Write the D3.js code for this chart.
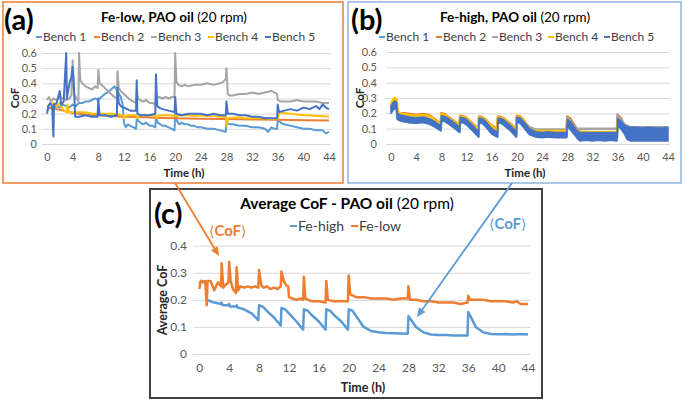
<!DOCTYPE html>
<html><head><meta charset="utf-8">
<script src="https://cdn.jsdelivr.net/npm/d3@7"></script>
<style>body{margin:0;background:#fff}svg{display:block}text{font-family:Lato,'Open Sans','DejaVu Sans',sans-serif}</style>
</head><body><svg id="chart" width="685" height="405"></svg>
<script>
// ---------------- DATA ----------------
const xTickValues = [0,4,8,12,16,20,24,28,32,36,40,44];
const yTicksAB = [0,0.1,0.2,0.3,0.4,0.5,0.6];
const yTicksC = [0,0.1,0.2,0.3,0.4];
const benchNames = ["Bench 1","Bench 2","Bench 3","Bench 4","Bench 5"];
const benchColors = ["#5B9BD5","#ED7D31","#A5A5A5","#FFC000","#4472C4"];
const avgNames = ["Fe-high","Fe-low"];
const avgColors = ["#5B9BD5","#ED7D31"];

// Panel (a) Fe-low  [time h, CoF]
const bench1Low = [[0,0.22],[0.5,0.24],[1,0.23],[1.5,0.25],[2,0.24],[2.5,0.26],[3,0.25],[3.5,0.24],[4,0.26],[4.5,0.25],[5,0.27],[5.5,0.27],[6,0.28],[6.5,0.28],[7,0.29],[7.5,0.30],[8,0.29],[8.5,0.31],[9,0.33],[9.5,0.34],[10,0.36],[10.5,0.38],[11,0.35],[11.5,0.31],[11.8,0.26],[12,0.14],[12.3,0.11],[12.6,0.13],[13,0.12],[13.5,0.11],[13.9,0.10],[14,0.17],[14.3,0.15],[14.6,0.14],[15,0.13],[15.5,0.14],[16,0.12],[16.5,0.12],[16.9,0.11],[17,0.18],[17.3,0.14],[17.7,0.13],[18,0.12],[18.5,0.12],[19,0.11],[19.5,0.10],[19.9,0.09],[20,0.20],[20.3,0.15],[20.6,0.13],[21,0.14],[21.5,0.13],[22,0.13],[22.5,0.12],[23,0.12],[23.5,0.11],[24,0.11],[25,0.10],[26,0.10],[27,0.09],[27.9,0.08],[28,0.14],[28.5,0.13],[29,0.13],[30,0.12],[31,0.12],[32,0.11],[33,0.11],[34,0.10],[34.5,0.08],[35,0.11],[35.5,0.10],[35.9,0.10],[36,0.16],[36.5,0.14],[37,0.13],[38,0.12],[39,0.11],[40,0.10],[41,0.10],[42,0.09],[43,0.09],[43.5,0.07],[44,0.08]];
const bench2Low = [[0,0.24],[0.5,0.24],[1,0.235],[2,0.225],[3,0.215],[4,0.205],[5,0.20],[6,0.195],[8,0.19],[10,0.185],[12,0.18],[14,0.178],[16,0.175],[18,0.172],[20,0.17],[24,0.167],[28,0.165],[32,0.162],[36,0.16],[40,0.157],[44,0.155]];
const bench3Low = [[0,0.29],[0.3,0.31],[0.6,0.28],[1,0.30],[1.5,0.29],[2,0.31],[2.5,0.30],[3,0.29],[3.5,0.30],[3.8,0.32],[4,0.55],[4.2,0.33],[4.6,0.30],[4.9,0.28],[5,0.60],[5.2,0.42],[5.5,0.40],[6,0.38],[6.5,0.37],[7,0.36],[7.5,0.38],[7.9,0.37],[8,0.49],[8.2,0.40],[8.5,0.39],[9,0.37],[9.5,0.35],[10,0.33],[10.5,0.31],[10.9,0.30],[11,0.48],[11.2,0.37],[11.5,0.35],[12,0.33],[12.5,0.31],[13,0.29],[13.5,0.28],[13.9,0.27],[14,0.36],[14.2,0.30],[14.5,0.29],[15,0.28],[15.5,0.29],[16,0.27],[16.5,0.27],[16.9,0.26],[17,0.30],[17.5,0.31],[18,0.30],[18.5,0.31],[19,0.30],[19.5,0.31],[19.9,0.31],[20,0.60],[20.2,0.41],[20.5,0.39],[21,0.38],[21.5,0.39],[22,0.38],[23,0.39],[24,0.39],[25,0.40],[26,0.39],[27,0.40],[27.5,0.41],[27.9,0.43],[28,0.50],[28.2,0.33],[28.5,0.32],[29,0.32],[30,0.33],[31,0.33],[32,0.34],[33,0.33],[34,0.34],[35,0.35],[35.9,0.33],[36,0.29],[36.5,0.28],[37,0.28],[38,0.28],[39,0.29],[40,0.28],[41,0.28],[42,0.28],[43,0.27],[44,0.27]];
const bench4Low = [[0,0.25],[0.5,0.26],[1,0.27],[1.5,0.25],[2,0.27],[2.3,0.24],[2.6,0.22],[3,0.21],[3.2,0.26],[3.4,0.21],[4,0.21],[5,0.21],[6,0.21],[7,0.20],[8,0.20],[9,0.20],[10,0.20],[11,0.195],[11.9,0.19],[12,0.17],[12.5,0.19],[13,0.19],[13.9,0.19],[14,0.17],[14.5,0.19],[15,0.19],[16,0.19],[16.9,0.19],[17,0.17],[17.5,0.19],[18,0.19],[19,0.19],[20,0.185],[21,0.19],[22,0.19],[23,0.185],[24,0.19],[25,0.185],[26,0.185],[27,0.18],[27.9,0.18],[28,0.12],[28.3,0.17],[29,0.175],[30,0.175],[31,0.17],[32,0.17],[33,0.17],[34,0.17],[35,0.165],[35.9,0.165],[36,0.17],[36.3,0.21],[37,0.205],[38,0.20],[39,0.195],[40,0.19],[41,0.19],[42,0.185],[43,0.185],[44,0.18]];
const bench5Low = [[0,0.20],[0.2,0.25],[0.5,0.27],[0.8,0.25],[1,0.05],[1.1,0.26],[1.5,0.27],[2,0.35],[2.2,0.26],[2.6,0.28],[3,0.60],[3.1,0.30],[3.5,0.40],[3.8,0.44],[4,0.51],[4.2,0.38],[4.4,0.18],[5,0.18],[6,0.19],[7,0.18],[7.9,0.18],[8,0.30],[8.2,0.19],[9,0.19],[10,0.18],[10.9,0.19],[11,0.37],[11.2,0.27],[11.5,0.25],[12,0.24],[13,0.22],[13.9,0.22],[14,0.42],[14.1,0.20],[14.5,0.19],[15,0.19],[16,0.19],[16.9,0.20],[17,0.46],[17.2,0.25],[17.5,0.24],[18,0.23],[19,0.22],[19.9,0.21],[20,0.31],[20.2,0.20],[21,0.19],[22,0.20],[23,0.20],[24,0.20],[25,0.19],[26,0.20],[27,0.19],[27.9,0.19],[28,0.28],[28.2,0.20],[29,0.20],[30,0.19],[31,0.19],[32,0.18],[33,0.18],[34,0.17],[35,0.17],[35.9,0.17],[36,0.26],[36.2,0.21],[37,0.22],[38,0.23],[39,0.22],[40,0.24],[41,0.23],[42,0.25],[42.5,0.23],[43,0.26],[43.5,0.24],[44,0.23]];

// Panel (b) Fe-high  [time h, CoF]
const bench1High = [[0,0.21],[0.5,0.24],[0.9,0.24],[1,0.17],[2,0.15],[3,0.14],[4,0.14],[5,0.145],[6,0.14],[7,0.12],[7.9,0.09],[8,0.16],[9,0.14],[10,0.11],[10.9,0.08],[11,0.15],[12,0.13],[13,0.09],[13.9,0.05],[14,0.15],[15,0.12],[16,0.07],[16.9,0.05],[17,0.15],[18,0.13],[19,0.09],[19.9,0.05],[20,0.15],[21,0.12],[22,0.07],[24,0.05],[27.9,0.05],[28,0.12],[29,0.07],[30,0.04],[35.9,0.04],[36,0.13],[37,0.08],[38,0.05],[44,0.05]];
const bench2High = [[0,0.24],[0.3,0.28],[0.6,0.29],[0.9,0.28],[1,0.21],[1.5,0.20],[2,0.20],[3,0.195],[4,0.19],[5,0.195],[6,0.19],[7,0.16],[7.9,0.13],[8,0.20],[8.5,0.195],[9,0.18],[10,0.15],[10.9,0.12],[11,0.185],[11.5,0.18],[12,0.17],[13,0.13],[13.9,0.10],[14,0.18],[14.5,0.175],[15,0.16],[16,0.12],[16.9,0.10],[17,0.18],[17.5,0.175],[18,0.165],[19,0.13],[19.9,0.10],[20,0.185],[20.5,0.18],[21,0.16],[22,0.10],[23,0.085],[24,0.08],[26,0.08],[27.9,0.08],[28,0.18],[28.5,0.165],[29,0.13],[29.5,0.10],[30,0.08],[32,0.075],[34,0.075],[35.9,0.075],[36,0.19],[36.5,0.17],[37,0.13],[37.5,0.10],[38,0.09],[40,0.09],[42,0.09],[44,0.09]];
const bench3High = [[0,0.23],[0.5,0.27],[0.9,0.26],[1,0.20],[2,0.19],[4,0.18],[6,0.18],[7,0.15],[7.9,0.12],[8,0.19],[9,0.17],[10,0.14],[10.9,0.11],[11,0.18],[12,0.16],[13,0.12],[13.9,0.09],[14,0.17],[15,0.15],[16,0.11],[16.9,0.09],[17,0.17],[18,0.155],[19,0.12],[19.9,0.09],[20,0.175],[21,0.15],[22,0.11],[23,0.095],[24,0.095],[26,0.095],[27.9,0.095],[28,0.17],[28.5,0.15],[29,0.12],[29.5,0.10],[30,0.10],[32,0.10],[34,0.10],[35.9,0.10],[36,0.19],[36.5,0.16],[37,0.13],[38,0.11],[40,0.11],[42,0.11],[44,0.11]];
const bench4High = [[0,0.26],[0.3,0.29],[0.6,0.30],[0.9,0.29],[1,0.21],[1.5,0.20],[2,0.195],[3,0.19],[4,0.185],[5,0.19],[6,0.185],[7,0.155],[7.9,0.125],[8,0.195],[8.5,0.19],[9,0.175],[10,0.145],[10.9,0.115],[11,0.18],[11.5,0.175],[12,0.165],[13,0.125],[13.9,0.095],[14,0.175],[14.5,0.17],[15,0.155],[16,0.115],[16.9,0.095],[17,0.175],[17.5,0.17],[18,0.16],[19,0.125],[19.9,0.095],[20,0.18],[20.5,0.175],[21,0.155],[22,0.095],[23,0.085],[24,0.085],[26,0.085],[27.9,0.085],[28,0.15],[28.5,0.13],[29,0.10],[30,0.08],[32,0.078],[34,0.078],[35.9,0.078],[36,0.15],[36.5,0.13],[37,0.10],[38,0.09],[40,0.09],[44,0.09]];
// Bench 5 is a noisy band: [time h, low CoF, high CoF]
const bench5High = [[0,0.20,0.24],[0.3,0.22,0.27],[0.6,0.23,0.28],[0.9,0.22,0.27],[1,0.16,0.20],[1.5,0.15,0.19],[2,0.145,0.185],[3,0.14,0.175],[4,0.135,0.17],[5,0.14,0.175],[6,0.13,0.165],[7,0.11,0.145],[7.9,0.085,0.12],[8,0.15,0.185],[8.5,0.15,0.18],[9,0.135,0.17],[10,0.105,0.14],[10.9,0.075,0.11],[11,0.14,0.175],[11.5,0.14,0.17],[12,0.125,0.16],[13,0.085,0.12],[13.9,0.045,0.08],[14,0.14,0.17],[14.5,0.135,0.165],[15,0.115,0.15],[16,0.065,0.10],[16.9,0.045,0.075],[17,0.14,0.17],[17.5,0.135,0.165],[18,0.12,0.155],[19,0.085,0.12],[19.9,0.045,0.08],[20,0.145,0.175],[20.5,0.14,0.17],[21,0.11,0.15],[22,0.06,0.10],[23,0.045,0.08],[24,0.04,0.075],[25,0.045,0.08],[26,0.04,0.075],[27,0.04,0.075],[27.9,0.04,0.075],[28,0.12,0.16],[28.5,0.10,0.145],[29,0.07,0.115],[29.5,0.04,0.09],[30,0.02,0.075],[31,0.025,0.075],[32,0.02,0.075],[33,0.025,0.075],[34,0.02,0.075],[35,0.025,0.075],[35.9,0.02,0.075],[36,0.12,0.165],[36.5,0.10,0.15],[37,0.07,0.125],[37.5,0.03,0.115],[38,0.02,0.11],[39,0.02,0.11],[40,0.02,0.105],[41,0.02,0.11],[42,0.02,0.105],[43,0.02,0.105],[44,0.02,0.11]];

// Panel (c) averages [time h, average CoF]
const feHighAvg = [[0,0.26],[0.3,0.27],[0.6,0.265],[0.9,0.265],[1,0.20],[1.5,0.195],[2,0.19],[2.9,0.185],[3,0.19],[3.1,0.18],[3.9,0.18],[4,0.185],[4.1,0.175],[4.9,0.175],[5,0.18],[5.1,0.172],[6,0.165],[7,0.15],[7.9,0.125],[8,0.18],[8.5,0.175],[9,0.16],[10,0.135],[10.9,0.105],[11,0.17],[11.5,0.165],[12,0.15],[13,0.12],[13.9,0.09],[14,0.165],[14.5,0.16],[15,0.145],[16,0.12],[16.9,0.09],[17,0.165],[17.5,0.16],[18,0.145],[19,0.12],[19.9,0.09],[20,0.165],[20.5,0.16],[21,0.14],[22,0.10],[23,0.085],[24,0.08],[25,0.078],[26,0.077],[27,0.076],[27.9,0.075],[28,0.14],[28.5,0.12],[29,0.10],[30,0.08],[31,0.072],[32,0.07],[33,0.07],[34,0.068],[35,0.068],[35.9,0.068],[36,0.155],[36.3,0.14],[37,0.10],[38,0.08],[39,0.074],[40,0.073],[41,0.074],[42,0.072],[43,0.074],[44,0.072]];
const feLowAvg = [[0,0.24],[0.2,0.27],[0.5,0.265],[0.8,0.27],[1,0.18],[1.1,0.27],[1.5,0.27],[2,0.235],[2.5,0.265],[2.9,0.25],[3,0.335],[3.2,0.245],[3.5,0.255],[3.9,0.265],[4,0.34],[4.2,0.27],[4.5,0.24],[4.9,0.225],[5,0.32],[5.2,0.235],[5.5,0.25],[6,0.245],[6.5,0.25],[7,0.245],[7.5,0.25],[7.9,0.245],[8,0.31],[8.3,0.255],[8.6,0.245],[9,0.25],[9.5,0.24],[10,0.245],[10.5,0.24],[10.9,0.25],[11,0.305],[11.3,0.27],[11.6,0.255],[11.9,0.25],[12,0.21],[12.5,0.205],[13,0.20],[13.5,0.205],[13.9,0.20],[14,0.285],[14.2,0.205],[15,0.195],[16,0.195],[16.9,0.19],[17,0.27],[17.2,0.20],[18,0.195],[19,0.195],[19.9,0.195],[20,0.29],[20.2,0.22],[21,0.21],[22,0.21],[23,0.205],[24,0.205],[25,0.205],[26,0.20],[27,0.205],[27.9,0.205],[28,0.25],[28.2,0.20],[29,0.20],[30,0.195],[31,0.195],[32,0.19],[33,0.19],[34,0.19],[35,0.185],[35.9,0.19],[36,0.215],[36.2,0.20],[37,0.20],[38,0.20],[39,0.195],[40,0.195],[41,0.195],[42,0.19],[42.5,0.195],[43,0.185],[44,0.185]];

// ---------------- DRAW ----------------
const svg = d3.select("#chart");
svg.append("rect").attr("width",685).attr("height",405).attr("fill","#fff");

function panel(o){
  const x = d3.scaleLinear().domain([0,44]).range(o.xr);
  const y = d3.scaleLinear().domain([0,o.ymax]).range(o.yr);
  const g = svg.append("g");
  g.append("rect").attr("x",o.box[0]).attr("y",o.box[1]).attr("width",o.box[2]).attr("height",o.box[3])
    .attr("fill","#fff").attr("stroke",o.boxColor).attr("stroke-width",o.boxWidth);
  const gl = g.append("g").attr("transform",`translate(${x(-0.8)},0)`)
    .call(d3.axisLeft(y).tickValues(o.yTicks).tickSize(-(x(44.3)-x(-0.8))).tickFormat(""));
  gl.select(".domain").remove();
  gl.selectAll("line").attr("stroke","#d9d9d9");
  const ya = g.append("g").attr("transform",`translate(${o.yLabelX},0)`)
    .call(d3.axisLeft(y).tickValues(o.yTicks).tickSize(0).tickPadding(0).tickFormat(d=>d===0?"0":d3.format(".1f")(d)));
  ya.select(".domain").remove();
  ya.selectAll("text").attr("font-size",o.tick).attr("fill","#595959").attr("font-family","Lato,sans-serif");
  const xa = g.append("g").attr("transform",`translate(0,${o.xLabelY})`)
    .call(d3.axisBottom(x).tickValues(xTickValues).tickSize(0).tickPadding(0).tickFormat(d3.format("d")));
  xa.select(".domain").remove();
  xa.selectAll("text").attr("font-size",o.tick).attr("fill","#595959").attr("font-family","Lato,sans-serif");
  g.append("text").attr("x",o.xTitle[0]).attr("y",o.xTitle[1]).attr("text-anchor","middle")
    .attr("font-weight","bold").attr("font-size",o.axTitle).attr("fill","#262626").text("Time (h)");
  g.append("text").attr("transform",`translate(${o.yTitle[0]},${o.yTitle[1]}) rotate(-90)`).attr("text-anchor","middle")
    .attr("font-weight","bold").attr("font-size",o.axTitle).attr("fill","#262626").text(o.yTitleText);
  const t = g.append("text").attr("x",o.title[0]).attr("y",o.title[1]).attr("text-anchor","middle")
    .attr("font-size",o.titleSize).attr("fill","#000");
  t.append("tspan").attr("font-weight","bold").text(o.titleBold);
  t.append("tspan").text(o.titleRest);
  g.append("text").attr("x",o.letter[0]).attr("y",o.letter[1]).attr("font-weight","bold")
    .attr("font-size",o.letterSize).attr("fill","#000").text(o.letterText);
  o.legend.forEach((it,i)=>{
    const lx = o.legendX[i];
    g.append("line").attr("x1",lx).attr("x2",lx+o.legendLine).attr("y1",o.legendY).attr("y2",o.legendY)
      .attr("stroke",it.color).attr("stroke-width",2);
    g.append("text").attr("x",lx+o.legendLine+1).attr("y",o.legendY).attr("dy","0.35em")
      .attr("font-size",o.legendSize).attr("fill","#404040").text(it.name);
  });
  return {x,y,g};
}

// Panel (a)
const pa = panel({xr:[47,329], yr:[144,53], ymax:0.6, yTicks:yTicksAB, yLabelX:37, xLabelY:153, tick:11,
  box:[3,2,340,181], boxColor:"#ED7D31", boxWidth:1.5,
  xTitle:[184,177], yTitle:[19,98], yTitleText:"CoF", axTitle:11.5,
  title:[174,22], titleSize:13.5, titleBold:"Fe-low, PAO oil", titleRest:" (20 rpm)",
  letter:[4,30], letterSize:29, letterText:"(a)",
  legend:benchNames.map((n,i)=>({name:n,color:benchColors[i]})), legendX:[36,94,151,208,265], legendY:37, legendLine:6, legendSize:12});
const lineA = d3.line().x(d=>pa.x(d[0])).y(d=>pa.y(d[1]));
[bench1Low,bench2Low,bench3Low,bench4Low,bench5Low].forEach((s,i)=>{
  pa.g.append("path").datum(s).attr("d",lineA).attr("fill","none").attr("stroke",benchColors[i])
    .attr("stroke-width",2).attr("stroke-linejoin","round");
});

// Panel (b)
const pb = panel({xr:[391,668], yr:[144,52], ymax:0.6, yTicks:yTicksAB, yLabelX:377, xLabelY:153, tick:11,
  box:[348,2,333,181], boxColor:"#8FB4DE", boxWidth:1.5,
  xTitle:[525,177], yTitle:[364,98], yTitleText:"CoF", axTitle:11.5,
  title:[515,22], titleSize:13.5, titleBold:"Fe-high, PAO oil", titleRest:" (20 rpm)",
  letter:[351,30], letterSize:29, letterText:"(b)",
  legend:benchNames.map((n,i)=>({name:n,color:benchColors[i]})), legendX:[379,436,492,548,604], legendY:37, legendLine:6, legendSize:12});
const lineB = d3.line().x(d=>pb.x(d[0])).y(d=>pb.y(d[1]));
[bench1High,bench2High,bench3High,bench4High].forEach((s,i)=>{
  pb.g.append("path").datum(s).attr("d",lineB).attr("fill","none").attr("stroke",benchColors[i])
    .attr("stroke-width",2.5).attr("stroke-linejoin","round");
});
const areaB = d3.area().x(d=>pb.x(d[0])).y0(d=>pb.y(d[1])).y1(d=>pb.y(d[2]));
pb.g.append("path").datum(bench5High).attr("d",areaB).attr("fill",benchColors[4])
  .attr("stroke",benchColors[4]).attr("stroke-width",1.5).attr("stroke-linejoin","round");

// Panel (c)
const pc = panel({xr:[199.3,528], yr:[354,245.7], ymax:0.4, yTicks:yTicksC, yLabelX:187, xLabelY:363, tick:12,
  box:[150,189,392,209], boxColor:"#404040", boxWidth:2,
  xTitle:[363,392], yTitle:[167,300], yTitleText:"Average CoF", axTitle:12.5,
  title:[347,209], titleSize:15.5, titleBold:"Average CoF - PAO oil", titleRest:" (20 rpm)",
  letter:[154,224], letterSize:29, letterText:"(c)",
  legend:avgNames.map((n,i)=>({name:n,color:avgColors[i]})), legendX:[290,351], legendY:226, legendLine:7, legendSize:14});
const lineC = d3.line().x(d=>pc.x(d[0])).y(d=>pc.y(d[1]));
[feHighAvg,feLowAvg].forEach((s,i)=>{
  pc.g.append("path").datum(s).attr("d",lineC).attr("fill","none").attr("stroke",avgColors[i])
    .attr("stroke-width",2.5).attr("stroke-linejoin","round");
});
function cofLabel(x,y,color){
  const t = pc.g.append("text").attr("x",x).attr("y",y).attr("font-size",15).attr("fill",color);
  t.append("tspan").attr("font-family","'DejaVu Sans',sans-serif").attr("font-size",14).text("\u27E8");
  t.append("tspan").attr("font-weight","bold").text("CoF");
  t.append("tspan").attr("font-family","'DejaVu Sans',sans-serif").attr("font-size",14).text("\u27E9");
}
cofLabel(209,236,"#ED7D31");
cofLabel(489,229,"#5B9BD5");

// Arrows
function arrow(x1,y1,x2,y2,color){
  const ang = Math.atan2(y2-y1,x2-x1), L=9, W=4;
  const bx = x2 - L*Math.cos(ang), by = y2 - L*Math.sin(ang);
  svg.append("line").attr("x1",x1).attr("y1",y1).attr("x2",bx).attr("y2",by)
    .attr("stroke",color).attr("stroke-width",1.8);
  svg.append("path").attr("d",`M${x2},${y2}L${bx+W*Math.sin(ang)},${by-W*Math.cos(ang)}L${bx-W*Math.sin(ang)},${by+W*Math.cos(ang)}Z`)
    .attr("fill",color);
}
arrow(175,183,219,256,"#ED7D31");
arrow(512,183,417,317,"#5B9BD5");
</script></body></html>
